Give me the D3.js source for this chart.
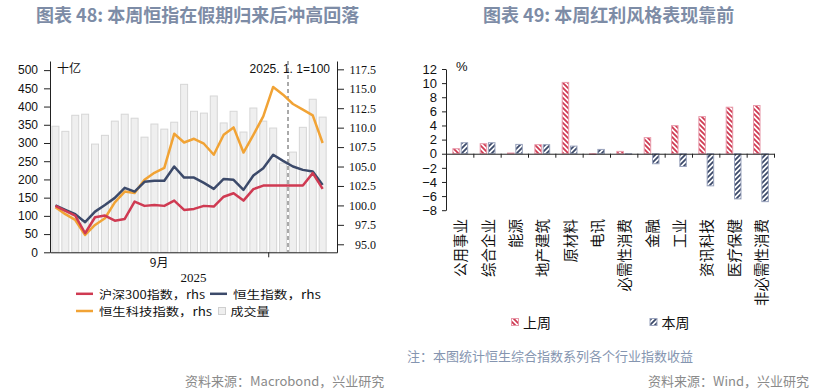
<!DOCTYPE html>
<html><head><meta charset="utf-8">
<script src="https://cdn.jsdelivr.net/npm/d3@7"></script>
<style>body{margin:0;background:#fff}svg{display:block}</style>
</head><body>
<svg id="c" width="831" height="392"></svg>
<script>
// ---------- Left chart data ----------
const volume = [346,332,376,379,297,321,360,379,368,316,352,338,357,461,387,382,429,355,387,330,396,360,341,245,275,343,420,371];
const csi300 = [99.94,99.29,98.69,96.42,98.48,98.69,98.04,98.26,100.49,99.94,100.06,99.94,100.62,99.42,99.55,99.94,99.85,101.12,101.57,100.62,102.09,102.55,102.55,102.55,102.55,102.55,104.15,102.13];
const hsi = [100.0,99.42,98.87,97.84,99.2,100.06,100.97,102.26,101.78,103.03,103.16,103.16,105.0,103.58,103.58,102.9,102.13,103.41,103.29,102.0,103.84,104.79,106.51,105.73,105.0,104.57,104.36,102.64];
const hstech = [99.77,98.87,98.13,96.2,97.49,98.35,100.39,101.78,101.61,103.29,104.19,104.83,109.21,108.09,108.57,107.93,106.51,109.08,110.03,106.8,109.08,111.44,115.23,114.24,113.04,112.31,111.57,108.02];
const leftTicks = [0,50,100,150,200,250,300,350,400,450,500];
const rightTicks = [95,97.5,100,102.5,105,107.5,110,112.5,115,117.5];
const monthLabel = "9月";
const monthEndIndex = 21.5;   // boundary September / October
const baseLineIndex = 23.5;   // dashed marker
const yearLabel = "2025";
const leftUnit = "十亿";
const baseNote = "2025. 1. 1=100";
const legendLeft = ["沪深300指数，rhs","恒生指数，rhs","恒生科技指数，rhs","成交量"];

// ---------- Right chart data ----------
const sectors = ["公用事业","综合企业","能源","地产建筑","原材料","电讯","必需性消费","金融","工业","资讯科技","医疗保健","非必需性消费"];
const lastWeek = [0.71,1.42,0.1,1.28,10.1,-0.1,0.33,2.28,3.98,5.26,6.59,6.83];
const thisWeek = [1.56,1.56,1.32,1.28,1.08,0.61,-0.05,-1.42,-1.81,-4.55,-6.4,-6.79];
const barTicks = [-8,-6,-4,-2,0,2,4,6,8,10,12];
const legendRight = ["上周","本周"];

const svg = d3.select("#c");
svg.append("rect").attr("width",831).attr("height",392).attr("fill","#fff");

const CJK = "'Noto Sans CJK SC','Noto Sans',sans-serif";
const titleColor = "#7d8ca6";
const RED="#cf3a52", NAVY="#3c4a6a", ORANGE="#f1a335";

// titles
svg.append("text").attr("x",36).attr("y",22).text("图表 48: 本周恒指在假期归来后冲高回落")
  .attr("font-family",CJK).attr("font-size",18).attr("font-weight","bold").attr("fill",titleColor);
svg.append("text").attr("x",483).attr("y",22).text("图表 49: 本周红利风格表现靠前")
  .attr("font-family",CJK).attr("font-size",18).attr("font-weight","bold").attr("fill",titleColor);

// ---------- Left chart ----------
const x = d3.scaleLinear().domain([-0.55,28.45]).range([50,337]);
const yL = d3.scaleLinear().domain([0,525]).range([252.3,61]);
const yR = d3.scaleLinear().domain([93.97,118.57]).range([252.3,61]);

const gL = svg.append("g");
gL.selectAll("rect.vol").data(volume).join("rect").attr("class","vol")
  .attr("x",(d,i)=>x(i)-3.5).attr("width",7)
  .attr("y",d=>yL(d)).attr("height",d=>yL(0)-yL(d))
  .attr("fill","#efefef").attr("stroke","#d6d6d6").attr("stroke-width",1);

// dashed marker
gL.append("line").attr("x1",x(baseLineIndex)).attr("x2",x(baseLineIndex))
  .attr("y1",61).attr("y2",252).attr("stroke","#555").attr("stroke-width",1).attr("stroke-dasharray","4,3");

const line = d3.line().x((d,i)=>x(i)).y(d=>yR(d));
[[hstech,ORANGE],[hsi,NAVY],[csi300,RED]].forEach(([s,c])=>{
  gL.append("path").datum(s).attr("d",line).attr("fill","none").attr("stroke",c)
    .attr("stroke-width",2.5).attr("stroke-linejoin","round");
});

// axes
const axL = gL.append("g").attr("transform","translate(50,0)")
  .call(d3.axisLeft(yL).tickValues(leftTicks).tickSize(6).tickSizeOuter(0).tickPadding(6));
axL.selectAll("text").attr("font-family","'Liberation Sans',Arial,sans-serif").attr("font-size",12).attr("fill","#111");
const axR = gL.append("g").attr("transform","translate(337,0)")
  .call(d3.axisRight(yR).tickValues(rightTicks).tickSize(7).tickSizeOuter(0).tickFormat(d3.format(".1f")));
axR.selectAll("text").attr("font-family","'Liberation Serif','Times New Roman',serif").attr("font-size",12)
  .attr("text-anchor","end").attr("x",39).attr("fill","#111");
const axB = gL.append("g").attr("transform","translate(0,252.3)")
  .call(d3.axisBottom(x).tickValues([monthEndIndex]).tickFormat("").tickSize(5).tickSizeOuter(0));
[axL,axR,axB].forEach(a=>{a.selectAll("path,line").attr("stroke","#222");});

gL.append("text").attr("x",(50+x(monthEndIndex))/2).attr("y",267).attr("text-anchor","middle")
  .attr("font-family",CJK).attr("font-size",12).attr("fill","#111").text(monthLabel);
gL.append("text").attr("x",193.5).attr("y",282).attr("text-anchor","middle")
  .attr("font-family","'Liberation Serif',serif").attr("font-size",13).attr("fill","#111").text(yearLabel);
gL.append("text").attr("x",57).attr("y",73).attr("font-family",CJK).attr("font-size",12).attr("fill","#111").text(leftUnit);
gL.append("text").attr("x",330).attr("y",73).attr("text-anchor","end")
  .attr("font-family","'Liberation Sans',Arial,sans-serif").attr("font-size",12).attr("fill","#111").text(baseNote);

// left legend
const legL = gL.append("g").attr("font-family",CJK).attr("font-size",11.5).attr("fill","#111");
const legItems = [
  {x:76,y:293.8,c:RED,t:legendLeft[0],type:"line",w:106},
  {x:210,y:293.8,c:NAVY,t:legendLeft[1],type:"line",w:88},
  {x:76,y:311,c:ORANGE,t:legendLeft[2],type:"line",w:113},
  {x:218.5,y:311,c:"#efefef",t:legendLeft[3],type:"box",w:39}
];
legItems.forEach(it=>{
  let tx;
  if(it.type==="line"){
    legL.append("line").attr("x1",it.x).attr("x2",it.x+17).attr("y1",it.y).attr("y2",it.y)
      .attr("stroke",it.c).attr("stroke-width",2.5);
    tx = it.x+23;
  } else {
    legL.append("rect").attr("x",it.x).attr("y",it.y-3.5).attr("width",7).attr("height",7)
      .attr("fill",it.c).attr("stroke","#cfcfcf");
    tx = it.x+12;
  }
  legL.append("text").attr("x",tx).attr("y",it.y).attr("dominant-baseline","central")
    .attr("textLength",it.w).attr("lengthAdjust","spacingAndGlyphs").text(it.t);
});

svg.append("text").attr("x",185).attr("y",386).attr("font-family",CJK).attr("font-size",13)
  .attr("fill","#8a8a8a").text("资料来源：Macrobond，兴业研究");

// ---------- Right chart ----------
const defs = svg.append("defs");
const pR = defs.append("pattern").attr("id","hatchR").attr("patternUnits","userSpaceOnUse").attr("width",5).attr("height",5);
pR.append("rect").attr("width",5).attr("height",5).attr("fill","#fff");
pR.append("path").attr("d","M0,0 L5,5 M-1,4 L1,6 M4,-1 L6,1").attr("stroke",RED).attr("stroke-width",1.8);
const pN = defs.append("pattern").attr("id","hatchN").attr("patternUnits","userSpaceOnUse").attr("width",5).attr("height",5);
pN.append("rect").attr("width",5).attr("height",5).attr("fill","#fff");
pN.append("path").attr("d","M0,5 L5,0 M-1,1 L1,-1 M4,6 L6,4").attr("stroke",NAVY).attr("stroke-width",1.8);

const xb = d3.scaleBand().domain(sectors).range([446,774]);
const yb = d3.scaleLinear().domain([-8,12]).range([210.2,69]);
const gR = svg.append("g");
const bw = 6.5;
gR.selectAll("rect.lw").data(lastWeek).join("rect").attr("class","lw")
  .attr("x",(d,i)=>xb(sectors[i])+xb.bandwidth()/2-6.8).attr("width",bw)
  .attr("y",d=>yb(Math.max(0,d))).attr("height",d=>Math.abs(yb(d)-yb(0)))
  .attr("fill","url(#hatchR)").attr("stroke","#e89aab").attr("stroke-width",1);
gR.selectAll("rect.tw").data(thisWeek).join("rect").attr("class","tw")
  .attr("x",(d,i)=>xb(sectors[i])+xb.bandwidth()/2+1.5).attr("width",bw)
  .attr("y",d=>yb(Math.max(0,d))).attr("height",d=>Math.abs(yb(d)-yb(0)))
  .attr("fill","url(#hatchN)").attr("stroke","#9aa3bd").attr("stroke-width",1);

const ayb = gR.append("g").attr("transform","translate(446,0)")
  .call(d3.axisLeft(yb).tickValues(barTicks).tickSize(4).tickSizeOuter(0).tickPadding(5));
ayb.selectAll("text").attr("font-family","'Liberation Sans',Arial,sans-serif").attr("font-size",13).attr("fill","#111");
const boundary = d3.scaleLinear().domain([0,sectors.length]).range([446,774]);
const axb = gR.append("g").attr("transform",`translate(0,${yb(0)})`)
  .call(d3.axisBottom(boundary).tickValues(d3.range(1,sectors.length+1)).tickFormat("").tickSize(4).tickSizeOuter(0));
[ayb,axb].forEach(a=>a.selectAll("path,line").attr("stroke","#222"));
gR.append("text").attr("x",456).attr("y",71).attr("font-family","'Liberation Sans',Arial,sans-serif")
  .attr("font-size",13).attr("fill","#111").text("%");

gR.selectAll("text.cat").data(sectors).join("text").attr("class","cat")
  .attr("transform",d=>`translate(${xb(d)+xb.bandwidth()/2},219) rotate(-90)`)
  .attr("text-anchor","end").attr("dominant-baseline","central")
  .attr("font-family",CJK).attr("font-size",14.5).attr("fill","#111").text(d=>d);

// right legend
[[511.5,"url(#hatchR)","#e89aab",legendRight[0]],[650,"url(#hatchN)","#9aa3bd",legendRight[1]]].forEach(([lx,f,s,t])=>{
  gR.append("rect").attr("x",lx).attr("y",318.5).attr("width",7).attr("height",7).attr("fill",f).attr("stroke",s);
  gR.append("text").attr("x",lx+11.5).attr("y",322).attr("dominant-baseline","central")
    .attr("font-family",CJK).attr("font-size",14).attr("fill","#111").text(t);
});

svg.append("text").attr("x",407).attr("y",361).attr("font-family",CJK).attr("font-size",13)
  .attr("fill","#8595b0").text("注：本图统计恒生综合指数系列各个行业指数收益");
svg.append("text").attr("x",809).attr("y",386).attr("text-anchor","end").attr("font-family",CJK).attr("font-size",13)
  .attr("fill","#8a8a8a").text("资料来源：Wind，兴业研究");
</script>
</body></html>
